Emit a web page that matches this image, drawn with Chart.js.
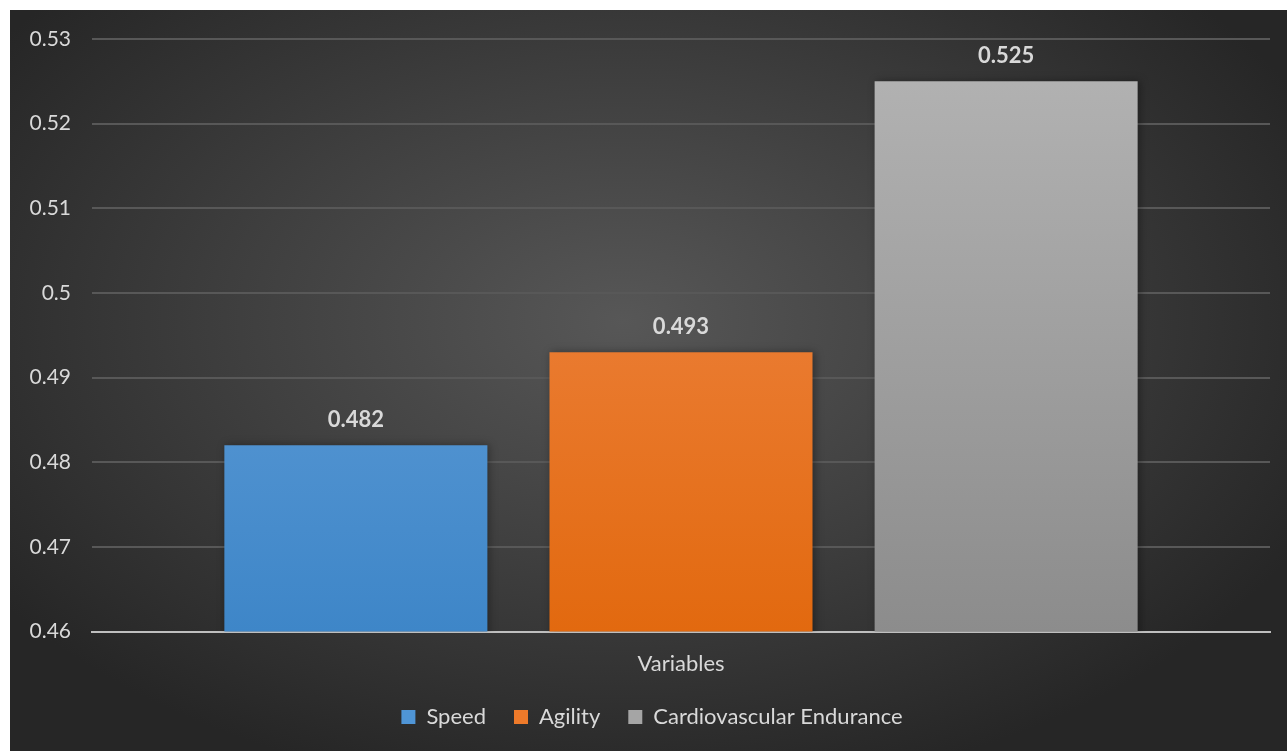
<!DOCTYPE html>
<html>
<head>
<meta charset="utf-8">
<script src="https://cdn.jsdelivr.net/npm/chart.js@4.4.1/dist/chart.umd.min.js"></script>
<style>
  html, body { margin: 0; padding: 0; background: #fff; }
  #wrap {
    position: absolute; left: 10px; top: 10px; width: 1277px; height: 741px;
    background: radial-gradient(ellipse 60% 65% at 48% 42%, #575757 0%, #3f3f3f 50%, #262626 100%);
  }
</style>
</head>
<body>
<div id="wrap"><canvas id="chart-1" width="1277" height="741"></canvas></div>
<script>
const categories = ["Variables"];
const seriesNames = ["Speed", "Agility", "Cardiovascular Endurance"];
const speedValues = [0.482];
const agilityValues = [0.493];
const enduranceValues = [0.525];
const yTicks = [0.46, 0.47, 0.48, 0.49, 0.5, 0.51, 0.52, 0.53];

const fontFamily = "Lato, 'Open Sans', sans-serif";
const textColor = "#d9d9d9";

// vertical gradient for each bar
function barGradient(top, bottom) {
  return (context) => {
    const chart = context.chart;
    const area = chart.chartArea;
    if (!area) return bottom;
    const g = chart.ctx.createLinearGradient(0, area.top, 0, area.bottom);
    g.addColorStop(0, top);
    g.addColorStop(1, bottom);
    return g;
  };
}

// value labels above bars
const valueLabels = {
  id: "valueLabels",
  afterDatasetsDraw(chart) {
    const ctx = chart.ctx;
    ctx.save();
    ctx.font = "bold 22px " + fontFamily;
    ctx.fillStyle = textColor;
    ctx.textAlign = "center";
    ctx.textBaseline = "middle";
    chart.data.datasets.forEach((ds, i) => {
      chart.getDatasetMeta(i).data.forEach((bar, j) => {
        ctx.fillText(ds.data[j].toFixed(3), bar.x, bar.y - 25);
      });
    });
    ctx.restore();
  },
};

// soft shadow behind bars
const barShadow = {
  id: "barShadow",
  beforeDatasetsDraw(chart) {
    chart.ctx.save();
    chart.ctx.shadowColor = "rgba(0,0,0,0.35)";
    chart.ctx.shadowBlur = 8;
    chart.ctx.shadowOffsetX = 2;
  },
  afterDatasetsDraw(chart) {
    chart.ctx.restore();
  },
};

// legend keeps wide gaps between items but takes less height
const LEGEND_TRIM = 10;
const LEGEND_SHIFT = 12;
const legendTrim = {
  id: "legendTrim",
  afterInit(chart) {
    const legend = chart.legend;
    const fit = legend.fit;
    legend.fit = function () {
      fit.call(this);
      this.height -= LEGEND_TRIM;
    };
  },
  afterLayout(chart) {
    chart.legend.top -= LEGEND_TRIM;
    chart.legend.left += LEGEND_SHIFT;
    chart.legend.right += LEGEND_SHIFT;
  },
};

const ctx1 = document.getElementById("chart-1").getContext("2d");
const myChart = new Chart(ctx1, {
  type: "bar",
  data: {
    labels: categories,
    datasets: [
      {
        label: seriesNames[0],
        data: speedValues,
        backgroundColor: barGradient("#72a9df", "#3e86c8"),
        legendColor: "#4f95d6",
      },
      {
        label: seriesNames[1],
        data: agilityValues,
        backgroundColor: barGradient("#f28d52", "#e2690f"),
        legendColor: "#ee7a2a",
      },
      {
        label: seriesNames[2],
        data: enduranceValues,
        backgroundColor: barGradient("#b4b4b4", "#8c8c8c"),
        legendColor: "#a5a5a5",
      },
    ],
  },
  options: {
    responsive: false,
    animation: false,
    layout: { padding: { top: 29, right: 17, bottom: 13, left: 0 } },
    datasets: {
      bar: { categoryPercentage: 0.828, barPercentage: 0.809 },
    },
    scales: {
      x: {
        grid: { display: false },
        border: { display: true, color: "#bfbfbf", width: 2 },
        ticks: { color: textColor, font: { family: fontFamily, size: 22 }, padding: 11 },
      },
      y: {
        min: 0.46,
        max: 0.53,
        afterBuildTicks(scale) {
          scale.ticks = yTicks.map((v) => ({ value: v }));
        },
        afterFit(scale) {
          scale.width = 82;
        },
        grid: {
          color: "#585858",
          lineWidth: 2,
          drawTicks: true,
          tickLength: 17,
          tickColor: "rgba(0,0,0,0)",
        },
        border: { display: false },
        ticks: {
          color: textColor,
          font: { family: fontFamily, size: 21 },
          padding: 4,
          callback: (v) => String(+v.toFixed(2)),
        },
      },
    },
    plugins: {
      legend: {
        position: "bottom",
        labels: {
          color: textColor,
          font: { family: fontFamily, size: 22 },
          boxWidth: 14,
          boxHeight: 14,
          padding: 28,
          generateLabels(chart) {
            return chart.data.datasets.map((ds, i) => ({
              text: ds.label,
              fillStyle: ds.legendColor,
              strokeStyle: ds.legendColor,
              lineWidth: 0,
              fontColor: textColor,
              datasetIndex: i,
            }));
          },
        },
      },
      tooltip: { enabled: false },
    },
  },
  plugins: [legendTrim, barShadow, valueLabels],
});
</script>
</body>
</html>
